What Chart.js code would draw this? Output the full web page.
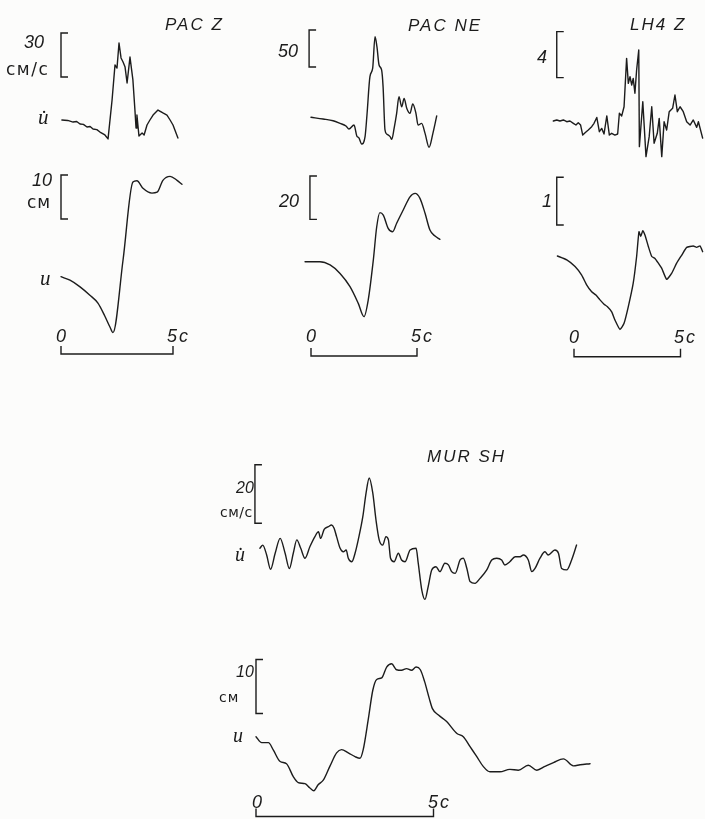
<!DOCTYPE html>
<html><head><meta charset="utf-8">
<script src="https://cdn.jsdelivr.net/npm/chart.js@4/dist/chart.umd.min.js"></script>
<style>html,body{margin:0;padding:0;background:#fcfcfb;}#wrap{position:relative;width:705px;height:819px;}</style>
</head><body><div id="wrap"><canvas id="c"></canvas></div>
<script>
// ---------- DATA (time in s, velocity in cm/s, displacement in cm) ----------
const titles = ["PAC Z", "PAC NE", "LH4 Z", "MUR SH"];
const velSpan = [30, 50, 4, 20];     // velocity scale brackets
const dispSpan = [10, 20, 1, 10];    // displacement scale brackets
const timeBar = [0, 5];              // time scale bar, s

const pacZ_vel_t = [0.04,0.30,0.54,0.70,0.85,1.00,1.16,1.30,1.43,1.60,1.74,1.96,2.10,2.28,2.41,2.50,2.59,2.68,2.77,2.86,2.95,3.08,3.21,3.30,3.35,3.39,3.48,3.62,3.71,3.84,3.97,4.11,4.33,4.55,4.73,4.87,5.00,5.22];
const pacZ_vel_v = [0,-0.3,-1.4,-1.0,-2.7,-3.0,-4.8,-4.4,-6.1,-6.6,-8.2,-10.2,-12.9,13.6,37.5,35.4,52.5,42.3,39.5,36.1,25.2,42.9,27.3,6.8,-5.5,3.4,-10.9,-8.9,-10.2,-3.4,0,3.4,6.8,4.8,3.4,0,-3.4,-12.3];
const pacZ_disp_t = [0,0.40,0.85,1.29,1.65,1.96,2.19,2.32,2.77,3.21,3.39,3.66,4.06,4.29,4.55,4.87,5.18,5.40];
const pacZ_disp_u = [0,-0.8,-2.3,-4.2,-6.0,-9.0,-11.5,-12.7,3.8,21.5,21.8,20.1,19.0,19.2,21.9,22.8,21.9,21.0];

const pacNE_vel_t = [0,0.57,1.04,1.37,1.65,1.79,2.03,2.16,2.26,2.39,2.55,2.64,2.78,2.91,3.02,3.11,3.21,3.33,3.40,3.49,3.57,3.73,3.81,3.92,4.04,4.15,4.28,4.39,4.52,4.67,4.80,4.95,5.05,5.22,5.38,5.57,5.75,5.93];
const pacNE_vel_v = [0,-2.3,-4.6,-8.2,-11.8,-15.9,-10.5,-25.3,-27.8,-36.1,-26.1,3.1,55,66.4,109,95.5,70.7,64,41.5,-17.1,-22.5,-26.1,-29.7,-14.9,5.4,27.7,14.2,25.5,12,5.4,18,5.4,-10.5,-8.2,-21.7,-40.5,-21.7,1.8];
const pacNE_disp_t = [-0.28,0.42,0.90,1.37,1.84,2.23,2.50,2.70,2.94,3.10,3.25,3.41,3.64,3.85,4.04,4.35,4.67,4.91,5.14,5.38,5.61,5.85,6.08];
const pacNE_disp_u = [0,0,-1.5,-5.4,-11.5,-19.2,-25.3,-17.6,0.8,16.1,22.6,21.5,15.4,13.8,17.7,23.8,29.9,31.5,29.2,22.3,14.6,11.8,10.3];

const lh4_vel_t = [-0.97,-0.81,-0.66,-0.50,-0.34,-0.19,-0.03,0.09,0.20,0.31,0.41,0.52,0.67,0.83,0.94,1.07,1.19,1.30,1.41,1.54,1.66,1.77,1.92,2.05,2.13,2.24,2.35,2.47,2.55,2.63,2.71,2.78,2.86,2.94,3.04,3.07,3.23,3.38,3.53,3.65,3.76,3.91,4.00,4.12,4.23,4.35,4.47,4.63,4.74,4.85,4.98,5.13,5.29,5.45,5.60,5.76,5.84,6.04];
const lh4_vel_v = [0.06,0.15,0.06,0.15,0,0.06,-0.14,-0.29,-0.09,-0.29,-1.16,-0.96,-0.72,-0.43,-0.14,0.37,-0.87,-0.58,-1.07,0.50,-1.16,-1.01,-1.16,-1.07,0.73,0.50,1.30,5.51,3.33,3.91,3.19,3.77,2.48,4.50,6.23,-2.17,1.74,-3.04,-1.30,1.30,-1.88,-1.01,0.29,-3.04,0,-0.72,0.87,1.16,2.32,0.87,1.30,0.87,0,-0.29,0.15,-0.49,0,-1.43];
const lh4_disp_t = [-0.78,-0.34,0.05,0.36,0.60,0.83,1.03,1.22,1.41,1.56,1.77,1.92,2.16,2.35,2.55,2.78,2.94,3.05,3.13,3.23,3.33,3.49,3.65,3.80,3.96,4.12,4.35,4.59,4.82,5.06,5.29,5.60,5.76,5.92,6.04];
const lh4_disp_u = [0,-0.08,-0.22,-0.40,-0.61,-0.75,-0.82,-0.92,-1.01,-1.06,-1.17,-1.34,-1.54,-1.41,-1.06,-0.57,-0.01,0.51,0.41,0.53,0.44,0.20,-0.01,-0.05,-0.15,-0.26,-0.49,-0.36,-0.15,0.02,0.18,0.21,0.18,0.21,0.09];

const mur_vel_t = [0.11,0.19,0.30,0.41,0.54,0.68,0.82,0.94,1.05,1.15,1.26,1.38,1.52,1.66,1.76,1.82,1.92,2.04,2.13,2.20,2.27,2.37,2.46,2.54,2.60,2.70,2.79,2.88,3.01,3.10,3.19,3.29,3.38,3.47,3.57,3.66,3.73,3.79,3.89,4.01,4.10,4.20,4.34,4.51,4.57,4.67,4.76,4.85,4.95,5.07,5.18,5.32,5.42,5.51,5.61,5.75,5.84,5.94,6.03,6.17,6.31,6.50,6.64,6.78,6.92,7.01,7.15,7.30,7.44,7.53,7.67,7.77,7.86,8.00,8.14,8.23,8.42,8.52,8.61,8.75,8.89,9.03];
const mur_vel_v = [0,1.1,-2.3,-7.2,-1.7,3.4,-1.7,-6.9,-1.7,2.9,0,-3.4,0.6,4.0,5.7,3.4,6.5,7.4,8.0,6.9,4.0,0,-1.2,-0.6,-3.4,-4.6,-1.7,2.9,10.9,18.9,24.1,18.9,9.7,2.9,1.1,4.0,2.9,-3.4,-4.6,-1.7,-4.0,-4.6,-0.6,0,-5.1,-14.3,-17.5,-13.1,-7.4,-6.3,-8.0,-5.1,-5.7,-8.0,-8.6,-4.0,-3.4,-6.9,-11.4,-12.0,-10.3,-7.4,-4.0,-3.4,-4.0,-5.7,-4.6,-2.9,-2.9,-2.3,-4.0,-8.0,-6.9,-3.4,-1.2,-2.3,-0.6,-1.7,-6.9,-7.4,-4.0,1.1];
const mur_disp_t = [0,0.16,0.35,0.49,0.68,0.86,1.05,1.19,1.38,1.52,1.63,1.75,1.90,2.08,2.27,2.41,2.60,2.79,2.93,3.02,3.16,3.29,3.40,3.54,3.68,3.82,3.96,4.10,4.24,4.38,4.51,4.63,4.75,4.88,4.97,5.14,5.37,5.66,5.84,6.03,6.22,6.40,6.59,6.87,7.15,7.39,7.67,7.91,8.14,8.38,8.66,8.94,9.13,9.41];
const mur_disp_u = [0,-1.1,-1.1,-2.5,-4.6,-5.0,-7.4,-8.5,-8.7,-9.5,-10.0,-8.9,-8.0,-5.5,-3.0,-2.4,-3.0,-3.7,-4.0,-2.4,3.1,8.6,10.6,10.9,12.9,13.5,12.4,12.3,12.6,12.3,12.9,12.4,10.2,7.1,5.2,4.0,2.8,0.6,0,-1.85,-3.7,-5.5,-6.5,-6.5,-6.05,-6.2,-5.3,-6.2,-5.5,-4.8,-4.1,-5.4,-5.2,-5.0];

// ---------- LAYOUT (pixel placement of each panel) ----------
const W = 705, H = 819, INK = "#1c1c1c";
const panelIds = ["pz", "pn", "lh", "mur"];
const layout = {
  pz:  {x0:61,  kx:22.4, barY:354,   vel:{y0:120,   k:1.467, lo:29.3, bt:0},     disp:{y0:276.7, k:4.4,  lo:13.1, bt:0},
        num:18, unit:17, uls:'1.5px', sym:21,
        lab:{title:[165,30], vn:[24,48], vu:[6,75], vs:[38,124], dn:[32,186], du:[27,208], ds:[40,285], t0:[56,342], t5:[167,342]}},
  pn:  {x0:311, kx:21.2, barY:356,   vel:{y0:117.3, k:0.74,  lo:68,   bt:-0.09}, disp:{y0:261.7, k:2.17, lo:19.5, bt:-0.05},
        num:18, unit:16, uls:'2px', sym:21,
        lab:{title:[408,31], vn:[278,57], dn:[279,207], t0:[306,342], t5:[411,342]}},
  lh:  {x0:574, kx:21.3, barY:356.7, vel:{y0:121.7, k:11.5,  lo:3.83, bt:-0.81}, disp:{y0:256,   k:47.7, lo:0.65, bt:-0.81},
        num:18, unit:16, uls:'2px', sym:21,
        lab:{title:[630,30], vn:[537,63], dn:[542,207], t0:[569,343], t5:[674,343]}},
  mur: {x0:256, kx:35.5, barY:816.5, vel:{y0:548.3, k:2.92,  lo:8.6,  bt:-0.03}, disp:{y0:736.7, k:5.4,  lo:4.3,  bt:0},
        num:16, unit:14, uls:'0.5px', sym:20,
        lab:{title:[427,462], vn:[236,493], vu:[220,517], vs:[235,561], dn:[236,677], du:[219,702], ds:[233,742], t0:[252,808], t5:[428,808]}}
};
const series = {
  pz:  {vel:[pacZ_vel_t, pacZ_vel_v, 0], disp:[pacZ_disp_t, pacZ_disp_u, 'm']},
  pn:  {vel:[pacNE_vel_t, pacNE_vel_v, 'm'], disp:[pacNE_disp_t, pacNE_disp_u, 'm']},
  lh:  {vel:[lh4_vel_t, lh4_vel_v, 0], disp:[lh4_disp_t, lh4_disp_u, 0.15]},
  mur: {vel:[mur_vel_t, mur_vel_v, 'm'], disp:[mur_disp_t, mur_disp_u, 'm']}
};

const scales = {}, datasets = [];
panelIds.forEach(id => {
  const L = layout[id];
  scales['x_' + id] = {type:'linear', axis:'x', position:'bottom', display:false, min:-L.x0 / L.kx, max:(W - L.x0) / L.kx};
  ['vel', 'disp'].forEach(kind => {
    const c = L[kind], yid = (kind === 'vel' ? 'yv_' : 'yd_') + id;
    scales[yid] = {type:'linear', axis:'y', position:'left', display:false, min:-(H - c.y0) / c.k, max:c.y0 / c.k};
    const [ts, vs, mode] = series[id][kind];
    datasets.push({
      data: ts.map((t, i) => ({x:t, y:vs[i]})),
      xAxisID:'x_' + id, yAxisID:yid,
      borderColor:INK, borderWidth:1.4, pointRadius:0, fill:false,
      tension: mode === 'm' ? 0 : mode,
      cubicInterpolationMode: mode === 'm' ? 'monotone' : 'default',
      borderJoinStyle:'round', borderCapStyle:'round'
    });
  });
});

const decor = {
  id:'decor',
  beforeDraw(chart){ const c = chart.ctx; c.save(); c.fillStyle = '#fcfcfb'; c.fillRect(0,0,chart.width,chart.height); c.restore(); },
  afterDatasetsDraw(chart){
    const ctx = chart.ctx; ctx.save();
    ctx.strokeStyle = INK; ctx.fillStyle = INK; ctx.lineWidth = 1.4; ctx.lineJoin = 'miter';
    panelIds.forEach((id, i) => {
      const L = layout[id], xs = chart.scales['x_' + id];
      [['vel', velSpan[i]], ['disp', dispSpan[i]]].forEach(([kind, span]) => {
        const ys = chart.scales[(kind === 'vel' ? 'yv_' : 'yd_') + id], c = L[kind];
        const x = xs.getPixelForValue(c.bt), y1 = ys.getPixelForValue(c.lo), y2 = ys.getPixelForValue(c.lo + span);
        ctx.beginPath(); ctx.moveTo(x + 7, y2); ctx.lineTo(x, y2); ctx.lineTo(x, y1); ctx.lineTo(x + 7, y1); ctx.stroke();
      });
      const xa = xs.getPixelForValue(timeBar[0]), xb = xs.getPixelForValue(timeBar[1]), yb = L.barY;
      ctx.beginPath(); ctx.moveTo(xa, yb - 8); ctx.lineTo(xa, yb); ctx.lineTo(xb, yb); ctx.lineTo(xb, yb - 8); ctx.stroke();

      const lab = L.lab;
      const txt = (s, p, font, ls) => { if (!p) return; ctx.font = font; ctx.letterSpacing = ls || '0px'; ctx.fillText(s, p[0], p[1]); };
      txt(titles[i], lab.title, 'italic 17px "Liberation Sans"', '2px');
      txt(String(velSpan[i]), lab.vn, `italic ${L.num}px "Liberation Sans"`);
      txt('см/с', lab.vu, `${L.unit}px "DejaVu Sans"`, L.uls);
      txt('u\u0307', lab.vs, `italic ${L.sym}px "Liberation Serif"`);
      txt(String(dispSpan[i]), lab.dn, `italic ${L.num}px "Liberation Sans"`);
      txt('см', lab.du, `${L.unit}px "DejaVu Sans"`, '1px');
      txt('u', lab.ds, `italic ${L.sym}px "Liberation Serif"`);
      txt(String(timeBar[0]), lab.t0, 'italic 18px "Liberation Sans"');
      txt(timeBar[1] + 'с', lab.t5, 'italic 18px "Liberation Sans"', '2px');
    });
    ctx.restore();
  }
};

new Chart(document.getElementById('c'), {
  type:'line',
  data:{datasets},
  options:{
    responsive:true, maintainAspectRatio:false, animation:false,
    layout:{padding:0},
    plugins:{legend:{display:false}, tooltip:{enabled:false}, title:{display:false}},
    scales
  },
  plugins:[decor]
});
</script></body></html>
